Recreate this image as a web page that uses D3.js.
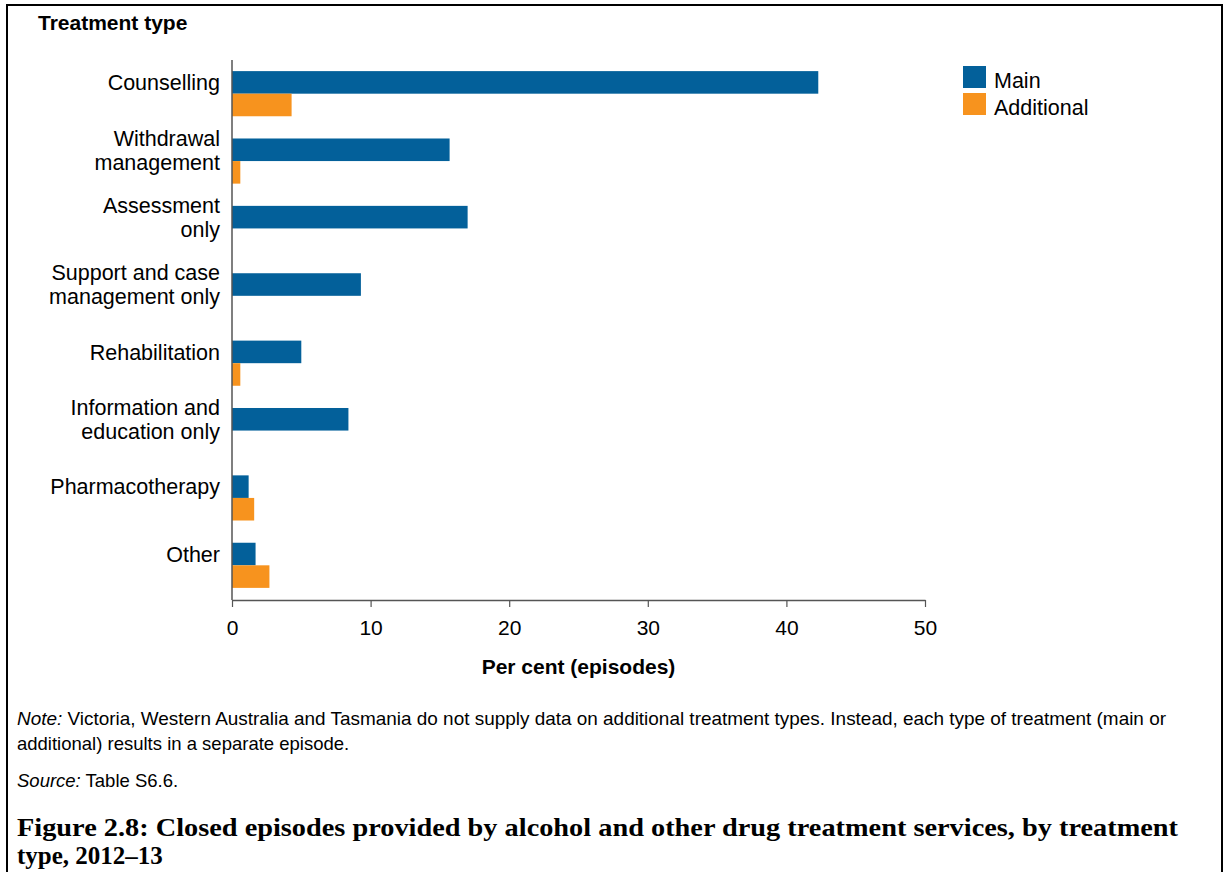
<!DOCTYPE html>
<html><head><meta charset="utf-8">
<script src="https://cdn.jsdelivr.net/npm/d3@7"></script>
<style>body{margin:0;background:#fff}svg{display:block}</style>
</head><body>
<svg id="c" width="1229" height="872"></svg>
<script>
const categories = [
  ["Counselling"],
  ["Withdrawal", "management"],
  ["Assessment", "only"],
  ["Support and case", "management only"],
  ["Rehabilitation"],
  ["Information and", "education only"],
  ["Pharmacotherapy"],
  ["Other"]
];
const catKeys = categories.map(c => c.join(" "));
const mainValues = [42.3, 15.7, 17.0, 9.3, 5.0, 8.4, 1.2, 1.7];
const additionalValues = [4.3, 0.6, 0, 0, 0.6, 0, 1.6, 2.7];
const seriesNames = ["Main", "Additional"];
const xTicks = [0, 10, 20, 30, 40, 50];
const colors = {Main: "#03609a", Additional: "#f7931e"};

const svg = d3.select("#c");
const font = "Liberation Sans, Arial, sans-serif";

// frame
svg.append("rect").attr("x", 7).attr("y", 5).attr("width", 1215).attr("height", 880)
  .attr("fill", "none").attr("stroke", "#000").attr("stroke-width", 2);

const x = d3.scaleLinear().domain([0, 50]).range([232, 925]);
const y = d3.scaleBand().domain(catKeys).range([60, 599]).paddingInner(0.33).paddingOuter(0.165);
const bh = y.bandwidth() / 2;

const data = catKeys.map((k, i) => ({k, lines: categories[i], Main: mainValues[i], Additional: additionalValues[i]}));

// bars
const g = svg.append("g");
seriesNames.forEach((s, si) => {
  g.selectAll(".b" + si).data(data.filter(d => d[s] > 0)).join("rect")
    .attr("x", x(0)).attr("y", d => y(d.k) + si * bh)
    .attr("width", d => x(d[s]) - x(0)).attr("height", bh)
    .attr("fill", colors[s]);
});

// y axis line
svg.append("line").attr("x1", x(0)).attr("x2", x(0)).attr("y1", 60).attr("y2", 600)
  .attr("stroke", "#555").attr("stroke-width", 1.5);

// category labels: block centred on the main bar
const lineH = 24;
data.forEach(d => {
  const c = y(d.k) + bh / 2;
  const n = d.lines.length;
  d.lines.forEach((ln, li) => {
    svg.append("text").attr("x", 220).attr("y", c + (li - (n - 1) / 2) * lineH)
      .attr("dy", "0.36em").attr("text-anchor", "end")
      .style("font-family", font).style("font-size", "21.5px").attr("fill", "#000").text(ln);
  });
});

// x axis
const xAxis = d3.axisBottom(x).tickValues(xTicks).tickSize(7).tickPadding(13).tickSizeOuter(0);
const ax = svg.append("g").attr("transform", "translate(0,600)").call(xAxis);
ax.select(".domain").attr("stroke", "#555").attr("stroke-width", 1.5);
ax.selectAll(".tick line").attr("stroke", "#555").attr("stroke-width", 1.2);
ax.selectAll(".tick text").style("font-family", font).style("font-size", "21px").attr("fill", "#000");

svg.append("text").attr("x", x(25)).attr("y", 674).attr("text-anchor", "middle")
  .style("font-family", font).style("font-size", "21px").style("font-weight", "bold").text("Per cent (episodes)");

svg.append("text").attr("x", 38).attr("y", 30)
  .style("font-family", font).style("font-size", "21px").style("font-weight", "bold").text("Treatment type");

// legend
seriesNames.forEach((s, i) => {
  svg.append("rect").attr("x", 963).attr("y", 66 + i * 27).attr("width", 23).attr("height", 22).attr("fill", colors[s]);
  svg.append("text").attr("x", 994).attr("y", 80 + i * 27).attr("dy", "0.36em")
    .style("font-family", font).style("font-size", "21.5px").text(s);
});

// notes
const nf = "18.5px";
const n1 = svg.append("text").attr("x", 17).attr("y", 725).style("font-family", font).style("font-size", nf)
  .attr("textLength", 1149).attr("lengthAdjust", "spacingAndGlyphs");
n1.append("tspan").style("font-style", "italic").text("Note:");
n1.append("tspan").text(" Victoria, Western Australia and Tasmania do not supply data on additional treatment types. Instead, each type of treatment (main or");
svg.append("text").attr("x", 17).attr("y", 750).style("font-family", font).style("font-size", nf)
  .text("additional) results in a separate episode.");
const s1 = svg.append("text").attr("x", 17).attr("y", 787).style("font-family", font).style("font-size", nf);
s1.append("tspan").style("font-style", "italic").text("Source:");
s1.append("tspan").text(" Table S6.6.");

const serif = "'Liberation Serif', 'Times New Roman', serif";
svg.append("text").attr("x", 17).attr("y", 836).style("font-family", serif).style("font-size", "25px").style("font-weight", "bold")
  .attr("textLength", 1161).attr("lengthAdjust", "spacingAndGlyphs")
  .text("Figure 2.8: Closed episodes provided by alcohol and other drug treatment services, by treatment");
svg.append("text").attr("x", 17).attr("y", 864).style("font-family", serif).style("font-size", "25px").style("font-weight", "bold")
  .text("type, 2012–13");
</script>
</body></html>
